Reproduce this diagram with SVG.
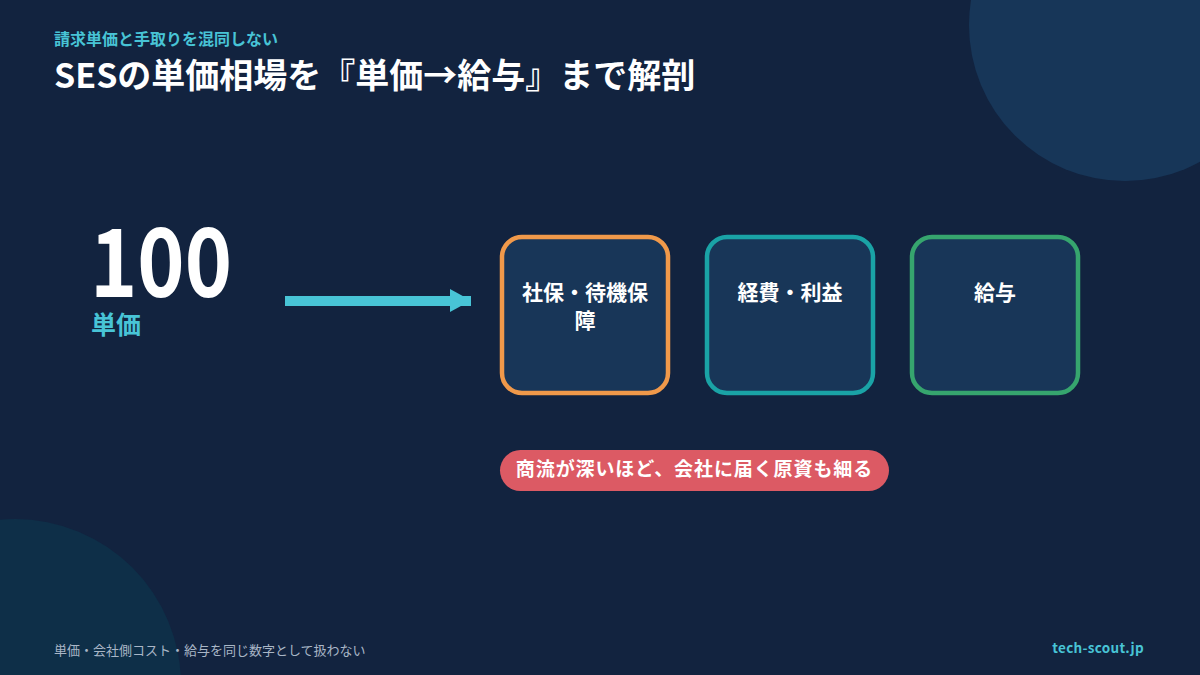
<svg xmlns="http://www.w3.org/2000/svg" width="1200" height="675" viewBox="0 0 1200 675">
<style>
.jp{font-family:"Noto Sans CJK JP","Noto Sans",sans-serif;font-weight:700}
.box{fill:#183658;stroke-width:4.5}
.lbl{fill:#ffffff;font-size:21px;text-anchor:middle}
</style>
<rect width="1200" height="675" fill="#12233f"/>
<circle cx="1125" cy="25" r="156" fill="#173658"/>
<circle cx="15" cy="685" r="166" fill="#0e2f48"/>
<text class="jp" x="54" y="45" font-size="16" fill="#48c4d6">請求単価と手取りを混同しない</text>
<text class="jp" x="54" y="88" font-size="34" fill="#ffffff">SESの単価相場を『単価→給与』まで解剖</text>
<g id="price">
<text class="jp" x="90" y="297" font-size="95" fill="#ffffff" textLength="142" lengthAdjust="spacingAndGlyphs">100</text>
<text class="jp" x="91" y="334" font-size="25" fill="#48c4d6">単価</text>
</g>
<g id="connectors">
<line x1="285" y1="301" x2="471" y2="301" stroke="#48c4d6" stroke-width="10"/>
<polygon points="450,289 471,300.5 450,312" fill="#48c4d6"/>
</g>
<g id="node-shaho">
<rect class="box" x="502" y="237" width="166" height="156" rx="20" stroke="#f0994a"/>
<text class="jp lbl" x="585" y="300">社保・待機保</text>
<text class="jp lbl" x="585" y="328">障</text>
</g>
<g id="node-keihi">
<rect class="box" x="707" y="237" width="166" height="156" rx="20" stroke="#1aa3a6"/>
<text class="jp lbl" x="790" y="300">経費・利益</text>
</g>
<g id="node-kyuyo">
<rect class="box" x="912" y="237" width="166" height="156" rx="20" stroke="#36a56e"/>
<text class="jp lbl" x="995" y="300">給与</text>
</g>
<g id="note">
<rect x="500" y="450" width="389" height="41" rx="20.5" fill="#dc5a64"/>
<text class="jp" x="694.5" y="476" font-size="19" fill="#ffffff" text-anchor="middle" letter-spacing="0.9">商流が深いほど、会社に届く原資も細る</text>
</g>
<text x="54" y="655" font-family="Noto Sans CJK JP, sans-serif" font-size="13" fill="#a9b6c6">単価・会社側コスト・給与を同じ数字として扱わない</text>
<text class="jp" x="1144" y="653" font-size="13.5" fill="#48c4d6" text-anchor="end" letter-spacing="0.3">tech-scout.jp</text>
</svg>
